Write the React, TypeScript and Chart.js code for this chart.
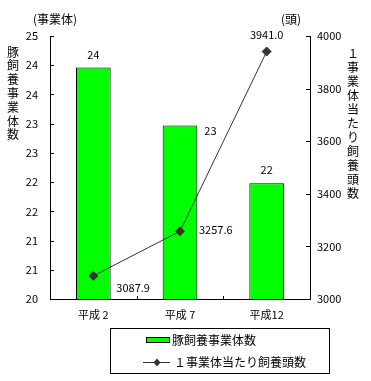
import React, { useEffect, useRef } from "react";
import { Chart, registerables } from "chart.js";

Chart.register(...registerables);

const categories = ["平成 2", "平成 7", "平成12"];
const farmCounts = [24.4, 23.3, 22.2];
const headsPerFarm = [3087.9, 3257.6, 3941.0];
const leftAxisTitle = "豚飼養事業体数";
const rightAxisTitle = "１事業体当たり飼養頭数";
const leftUnit = "(事業体)";
const rightUnit = "(頭)";
const barLegend = "豚飼養事業体数";
const lineLegend = "１事業体当たり飼養頭数";

const FONT = "'Noto Sans CJK JP', sans-serif";

const overlayPlugin = {
  id: "overlay",
  afterDraw(chart: any) {
    const { ctx, chartArea, scales } = chart;
    const yL = scales.y;
    const yR = scales.y1;
    const x = scales.x;
    ctx.save();
    ctx.strokeStyle = "#000";
    ctx.lineWidth = 1;
    // inward ticks
    yL.ticks.forEach((t: any) => {
      const py = Math.round(yL.getPixelForValue(t.value)) + 0.5;
      ctx.beginPath();
      ctx.moveTo(chartArea.left, py);
      ctx.lineTo(chartArea.left + 4, py);
      ctx.stroke();
    });
    yR.ticks.forEach((t: any) => {
      const py = Math.round(yR.getPixelForValue(t.value)) + 0.5;
      ctx.beginPath();
      ctx.moveTo(chartArea.right - 4, py);
      ctx.lineTo(chartArea.right, py);
      ctx.stroke();
    });
    for (let i = 1; i < categories.length; i++) {
      const bx = Math.round((x.getPixelForValue(i - 1) + x.getPixelForValue(i)) / 2) + 0.5;
      ctx.beginPath();
      ctx.moveTo(bx, chartArea.bottom - 3);
      ctx.lineTo(bx, chartArea.bottom);
      ctx.stroke();
    }

    ctx.fillStyle = "#000";
    ctx.font = "11px " + FONT;
    // bar labels
    const barMeta = chart.getDatasetMeta(1);
    barMeta.data.forEach((el: any, i: number) => {
      const txt = String(Math.round(farmCounts[i]));
      ctx.textBaseline = "middle";
      if (i === 1) {
        ctx.textAlign = "left";
        ctx.fillText(txt, el.x + el.width / 2 + 7, el.y + 5);
      } else {
        ctx.textAlign = "center";
        ctx.fillText(txt, el.x, el.y - 13);
      }
    });
    // line labels
    const lineMeta = chart.getDatasetMeta(0);
    lineMeta.data.forEach((el: any, i: number) => {
      const txt = headsPerFarm[i].toFixed(1);
      ctx.textBaseline = "middle";
      if (i === 0) {
        ctx.textAlign = "left";
        ctx.fillText(txt, el.x + 23, el.y + 12);
      } else if (i === 1) {
        ctx.textAlign = "left";
        ctx.fillText(txt, el.x + 19, el.y - 1);
      } else {
        ctx.textAlign = "center";
        ctx.fillText(txt, el.x, el.y - 17);
      }
    });

    // units
    ctx.font = "12px " + FONT;
    ctx.textAlign = "center";
    ctx.textBaseline = "middle";
    ctx.fillText(leftUnit, chartArea.left + 5, chartArea.top - 17);
    ctx.fillText(rightUnit, chartArea.right - 19, chartArea.top - 17);

    // vertical titles
    Array.from(leftAxisTitle).forEach((ch, i) => {
      ctx.fillText(ch, 13, 52 + i * 13.8);
    });
    Array.from(rightAxisTitle).forEach((ch, i) => {
      ctx.fillText(ch, 353, 53 + i * 14);
    });

    // legend
    const lx = 110.5, ly = 328.5, lw = 219, lh = 45;
    ctx.strokeRect(lx, ly, lw, lh);
    ctx.fillStyle = "#00ff00";
    ctx.fillRect(146.5, 337.5, 23, 5);
    ctx.strokeRect(146.5, 337.5, 23, 5);
    ctx.fillStyle = "#000";
    ctx.textAlign = "left";
    ctx.fillText(barLegend, 172, 340);
    ctx.strokeStyle = "#333";
    ctx.beginPath();
    ctx.moveTo(143, 362.5);
    ctx.lineTo(170, 362.5);
    ctx.stroke();
    ctx.fillStyle = "#333";
    ctx.beginPath();
    ctx.moveTo(157, 358.5);
    ctx.lineTo(160.5, 362.5);
    ctx.lineTo(157, 366.5);
    ctx.lineTo(153.5, 362.5);
    ctx.closePath();
    ctx.fill();
    ctx.fillStyle = "#000";
    ctx.fillText(lineLegend, 174, 362);
    ctx.restore();
  },
};

export default function App() {
  const ref = useRef<HTMLCanvasElement | null>(null);
  useEffect(() => {
    if (!ref.current) return;
    const chart = new Chart(ref.current, {
      type: "bar",
      data: {
        labels: categories,
        datasets: [
          {
            type: "line",
            label: lineLegend,
            data: headsPerFarm,
            yAxisID: "y1",
            borderColor: "#333",
            borderWidth: 1,
            pointStyle: "rectRot",
            pointRadius: 4.5,
            pointBackgroundColor: "#333",
            pointBorderColor: "#333",
            order: 0,
          } as any,
          {
            type: "bar",
            label: barLegend,
            data: farmCounts,
            yAxisID: "y",
            backgroundColor: "#00ff00",
            borderColor: "#000",
            borderWidth: 1,
            borderSkipped: false,
            categoryPercentage: 1,
            barPercentage: 0.4,
            order: 1,
          },
        ],
      },
      options: {
        animation: false,
        responsive: true,
        maintainAspectRatio: false,
        layout: { padding: { left: 20, right: 21, top: 36, bottom: 57 } },
        plugins: { legend: { display: false }, tooltip: { enabled: false } },
        scales: {
          x: {
            grid: { display: false, drawTicks: false },
            border: { display: true, color: "#000", width: 1 },
            ticks: { color: "#000", font: { family: FONT, size: 11 }, padding: 9 },
            afterFit: (s: any) => { s.height = 25; },
          },
          y: {
            position: "left",
            min: 20,
            max: 25,
            ticks: {
              count: 10,
              color: "#000",
              font: { family: FONT, size: 11 },
              padding: 12,
              callback: (v: any) => String(Math.round(Number(v))),
            },
            grid: { display: false, drawTicks: false },
            border: { display: true, color: "#000", width: 1 },
            afterFit: (s: any) => { s.width = 30; },
          },
          y1: {
            position: "right",
            min: 3000,
            max: 4000,
            ticks: {
              stepSize: 200,
              color: "#000",
              font: { family: FONT, size: 11 },
              padding: 7,
              callback: (v: any) => String(v),
            },
            grid: { display: false, drawTicks: false },
            border: { display: true, color: "#000", width: 1 },
            afterFit: (s: any) => { s.width = 40; },
          },
        },
      },
      plugins: [overlayPlugin],
    });
    return () => chart.destroy();
  }, []);
  return (
    <div style={{ position: "absolute", left: 0, top: 0, width: 371, height: 381, background: "#fff" }}>
      <canvas ref={ref} />
    </div>
  );
}
